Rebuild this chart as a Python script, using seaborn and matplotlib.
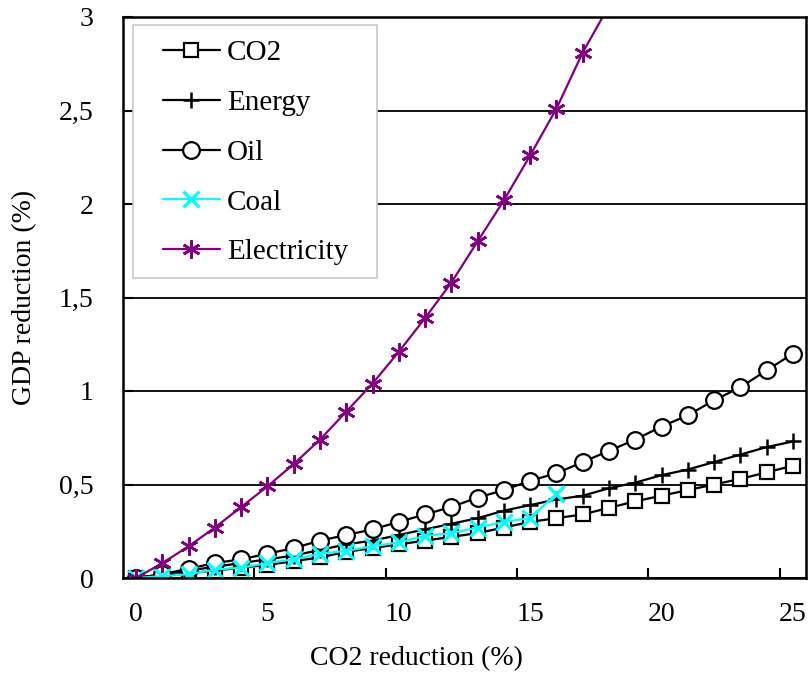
import matplotlib
matplotlib.use("Agg")
import matplotlib.pyplot as plt
import seaborn as sns
import numpy as np
from matplotlib.patches import Rectangle

# ---- data ----
co2_reduction = list(range(26))
co2 = [0, 0.01, 0.025, 0.04, 0.055, 0.07, 0.09, 0.11, 0.14, 0.16, 0.18, 0.20, 0.22,
       0.24, 0.27, 0.30, 0.32, 0.34, 0.375, 0.41, 0.44, 0.47, 0.50, 0.53, 0.565, 0.60]
energy = [0, 0.02, 0.04, 0.06, 0.08, 0.10, 0.12, 0.15, 0.18, 0.20, 0.23, 0.26, 0.29,
          0.32, 0.36, 0.39, 0.42, 0.44, 0.48, 0.51, 0.55, 0.58, 0.62, 0.66, 0.70, 0.73]
oil = [0, 0.02, 0.05, 0.08, 0.10, 0.13, 0.16, 0.20, 0.23, 0.26, 0.30, 0.34, 0.38,
       0.43, 0.47, 0.52, 0.56, 0.62, 0.68, 0.74, 0.81, 0.87, 0.95, 1.02, 1.11, 1.20]
coal = [0, 0.01, 0.02, 0.045, 0.055, 0.08, 0.10, 0.13, 0.145, 0.17, 0.19, 0.225, 0.24,
        0.27, 0.30, 0.32, 0.45]
electricity = [0, 0.08, 0.17, 0.27, 0.38, 0.49, 0.61, 0.74, 0.89, 1.04, 1.21, 1.39,
               1.58, 1.80, 2.02, 2.26, 2.51, 2.81, 3.06]

series_names = ["CO2", "Energy", "Oil", "Coal", "Electricity"]
x_tick_values = [0, 5, 10, 15, 20, 25]
x_tick_labels = ["0", "5", "10", "15", "20", "25"]
y_tick_values = [0, 0.5, 1, 1.5, 2, 2.5, 3]
y_tick_labels = ["0", "0,5", "1", "1,5", "2", "2,5", "3"]

# ---- style ----
sns.set_theme(style="white")
plt.rcParams["font.family"] = ["Liberation Serif", "DejaVu Serif"]
FS = 20

fig = plt.figure(figsize=(8.11, 6.75), dpi=100)
ax = fig.add_axes([123 / 811, 1 - 578 / 675, 683 / 811, 561 / 675])

styles = {
    "CO2":         dict(marker="s", color="black", mfc="white", ms=9.5, mew=1.6),
    "Energy":      dict(marker="+", color="black", mfc="black", ms=12, mew=1.8),
    "Oil":         dict(marker="o", color="black", mfc="white", ms=12, mew=1.6),
    "Coal":        dict(marker="x", color="#00FFFF", mfc="#00FFFF", ms=11, mew=2.4),
    "Electricity": dict(marker=(6, 2, 0), color="#800080", mfc="#800080", ms=13, mew=1.9),
}
values = {"CO2": co2, "Energy": energy, "Oil": oil, "Coal": coal, "Electricity": electricity}

for name in series_names:
    v = values[name]
    st = styles[name]
    sns.lineplot(x=co2_reduction[:len(v)], y=v, ax=ax, color=st["color"], lw=1.6,
                 marker=st["marker"], markersize=st["ms"], markerfacecolor=st["mfc"],
                 markeredgecolor=st["color"], markeredgewidth=st["mew"], label=name)

# legend box (white, light grey border)
rect = Rectangle((133 / 811, 1 - 278 / 675), 244 / 811, 253 / 675, transform=fig.transFigure,
                 facecolor="white", edgecolor="#c8c8c8", lw=1.2, zorder=4.5, clip_on=False)
ax.add_patch(rect)

leg = ax.legend(loc="upper left", bbox_to_anchor=(163 / 811, 1 - 40 / 675),
                bbox_transform=fig.transFigure, frameon=False, fontsize=21,
                handlelength=1.95, handletextpad=0.25, labelspacing=0.8,
                borderpad=0, borderaxespad=0)
for t in leg.get_texts():
    t.set_color("black")

# axes
ax.set_xlim(-0.5, 25.5)
ax.set_ylim(0, 3)
ax.set_xticks(x_tick_values)
ax.set_xticklabels(x_tick_labels)
ax.set_xticks([4.5, 9.5, 14.5, 19.5, 24.5], minor=True)
ax.set_yticks(y_tick_values)
ax.set_yticklabels(y_tick_labels)
ax.tick_params(axis="x", which="minor", length=7, width=1.5, direction="in",
               bottom=True, color="black")
ax.tick_params(axis="y", which="major", length=7, width=1.5, direction="in", pad=21,
               left=True, labelsize=FS, colors="black")
ax.tick_params(axis="x", which="major", length=0, direction="in", pad=17,
               labelsize=FS, colors="black")

ax.set_axisbelow(True)
ax.yaxis.grid(True, color="black", lw=1.3)
ax.xaxis.grid(False)
for sp in ax.spines.values():
    sp.set_color("black")
    sp.set_linewidth(1.8)
    sp.set_visible(True)

ax.set_xlabel("CO2 reduction (%)", fontsize=FS, color="black")
ax.set_ylabel("GDP reduction (%)", fontsize=FS, color="black")
ax.xaxis.set_label_coords(0.429, -0.122)
ax.yaxis.set_label_coords(-0.125, 0.5)

fig.canvas.draw()
fig.savefig("out.png", dpi=100)
